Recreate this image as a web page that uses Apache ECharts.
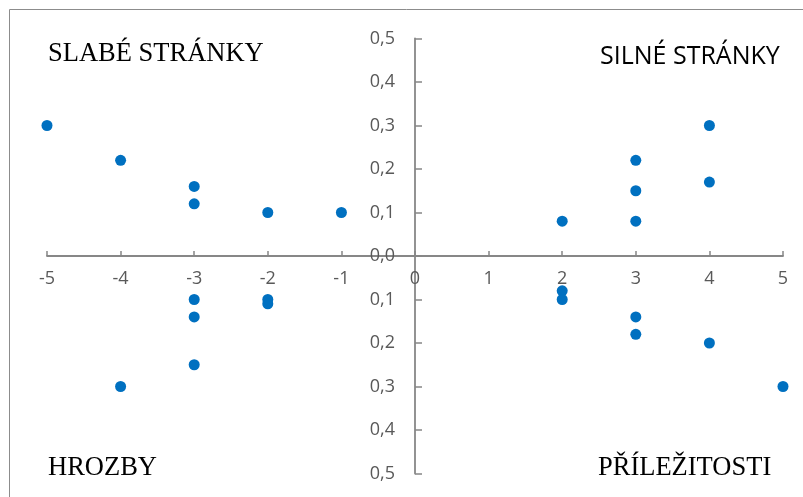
<!DOCTYPE html>
<html><head><meta charset="utf-8">
<script src="https://cdn.jsdelivr.net/npm/echarts@6/dist/echarts.min.js"></script>
<style>html,body{margin:0;padding:0;background:#fff}#c{width:803px;height:497px}</style>
</head><body><div id="c"></div>
<script>
var points = [
  [-5,0.30],[-4,0.22],[-3,0.16],[-3,0.12],[-2,0.10],[-1,0.10],
  [-3,-0.10],[-3,-0.14],[-3,-0.25],[-2,-0.10],[-2,-0.11],[-4,-0.30],
  [2,0.08],[3,0.22],[3,0.15],[3,0.08],[4,0.30],[4,0.17],
  [2,-0.08],[2,-0.10],[3,-0.14],[3,-0.18],[4,-0.20],[5,-0.30]
];
var xTicks = [-5,-4,-3,-2,-1,0,1,2,3,4,5];
var yTickLabels = ['0,5','0,4','0,3','0,2','0,1','0,0','0,1','0,2','0,3','0,4','0,5'];
var quadrantLabels = ['SLABÉ STRÁNKY','SILNÉ STRÁNKY','HROZBY','PŘÍLEŽITOSTI'];

var W = 803, H = 497;
var G = {left: 47, right: 20, top: 38.5, bottom: 23.5};
var gw = W - G.left - G.right, gh = H - G.top - G.bottom;

var chart = echarts.init(document.getElementById('c'));
var axisColor = '#878787';
chart.setOption({
  animation: false,
  grid: {left: G.left, right: G.right, top: G.top, bottom: G.bottom, outerBoundsMode: 'none', containLabel: false},
  xAxis: {
    type: 'value', min: -5, max: 5, interval: 1,
    position: 'bottom', offset: -gh / 2,
    axisLine: {onZero: false, lineStyle: {color: axisColor, width: 1.8}},
    axisTick: {show: true, inside: true, length: 5, lineStyle: {color: axisColor, width: 1.5}},
    axisLabel: {margin: 14, color: '#595959', fontSize: 18, fontFamily: 'Open Sans',
      formatter: function(v){ return String(v); }},
    splitLine: {show: false}
  },
  yAxis: {
    type: 'value', min: -0.5, max: 0.5, interval: 0.1,
    position: 'left', offset: -gw / 2,
    axisLine: {onZero: false, lineStyle: {color: axisColor, width: 1.8}},
    axisTick: {show: true, inside: true, length: 7, lineStyle: {color: axisColor, width: 1.5}},
    axisLabel: {margin: 20, color: '#595959', fontSize: 18, fontFamily: 'Open Sans',
      formatter: function(v){ var i = Math.round((0.5 - v) * 10); return yTickLabels[i]; }},
    splitLine: {show: false}
  },
  series: [{
    type: 'scatter', data: points, symbolSize: 11,
    itemStyle: {color: '#0070c0', opacity: 1}
  }],
  graphic: [
    {type: 'rect', shape: {x: 9.5, y: 9.5, width: 820, height: 520}, style: {fill: 'none', stroke: '#8c8c8c', lineWidth: 1}, silent: true},
    {type: 'text', x: 48, y: 54, style: {text: quadrantLabels[0], fontFamily: 'Liberation Serif', fontSize: 26.5, fill: '#000', verticalAlign: 'middle'}},
    {type: 'text', x: 600, y: 57, style: {text: quadrantLabels[1], fontFamily: 'Open Sans', fontSize: 25, fill: '#000', verticalAlign: 'middle'}},
    {type: 'text', x: 48, y: 468, style: {text: quadrantLabels[2], fontFamily: 'Liberation Serif', fontSize: 26.5, fill: '#000', verticalAlign: 'middle'}},
    {type: 'text', x: 598, y: 468, style: {text: quadrantLabels[3], fontFamily: 'Liberation Serif', fontSize: 26.5, fill: '#000', verticalAlign: 'middle'}}
  ]
});
</script></body></html>
